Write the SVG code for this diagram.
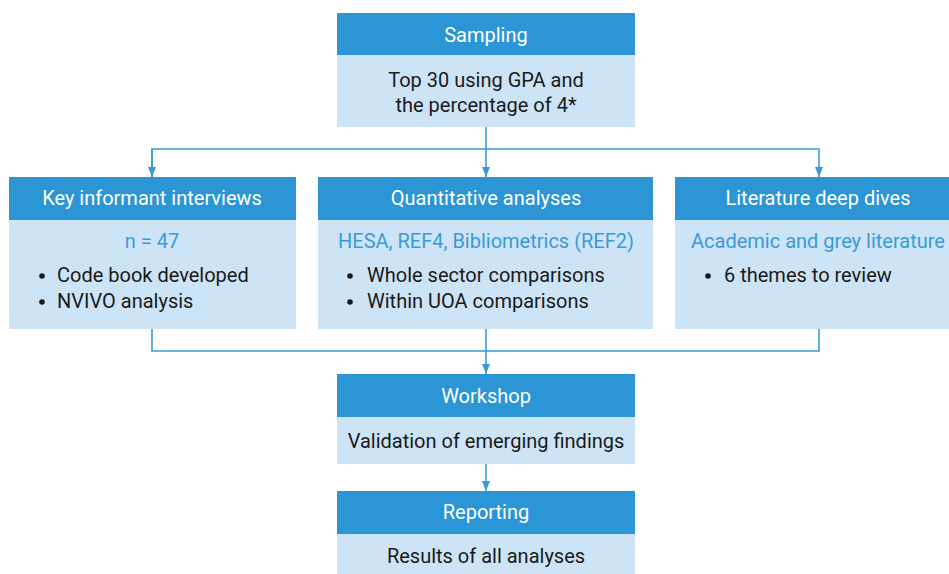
<svg xmlns="http://www.w3.org/2000/svg" width="949" height="574" viewBox="0 0 949 574">
<defs>
<style>
.hd{fill:#2B95D5}
.bd{fill:#CCE4F6}
.ht{font-family:Roboto,"Liberation Sans",sans-serif;font-size:20px;fill:#ffffff;text-anchor:middle}
.bt{font-family:Roboto,"Liberation Sans",sans-serif;font-size:20px;fill:#1a1a1a}
.bu{fill:#1a1a1a}
.bl{font-family:Roboto,"Liberation Sans",sans-serif;font-size:20px;fill:#3A9AD9;text-anchor:middle}
.c{text-anchor:middle}
.ln{fill:none;stroke:#3A9AD9;stroke-width:1.6}
</style>
<marker id="ah" viewBox="0 0 10 8" refX="10" refY="4" markerWidth="10" markerHeight="8" markerUnits="userSpaceOnUse" orient="auto">
<path d="M0,0 L10,4 L0,8 Z" fill="#3A9AD9"/>
</marker>
</defs>
<rect width="949" height="574" fill="#ffffff"/>
<g id="connectors">
<path class="ln" d="M486,127 V177" marker-end="url(#ah)"/>
<path class="ln" d="M152,177 V149 H819 V177" marker-end="url(#ah)"/>
<path class="ln" d="M152,149 V177" marker-end="url(#ah)"/>
<path class="ln" d="M152,329 V351 H819 V329"/>
<path class="ln" d="M486,329 V374" marker-end="url(#ah)"/>
<path class="ln" d="M486,464 V491" marker-end="url(#ah)"/>
</g>
<g id="sampling">
<rect class="hd" x="337" y="13" width="298" height="42"/>
<rect class="bd" x="337" y="55" width="298" height="72"/>
<text class="ht" x="486" y="42">Sampling</text>
<text class="bt c" x="486" y="87">Top 30 using GPA and</text>
<text class="bt c" x="486" y="112">the percentage of 4*</text>
</g>
<g id="key-informant">
<rect class="hd" x="9" y="177" width="287" height="43"/>
<rect class="bd" x="9" y="220" width="287" height="109"/>
<text class="ht" x="152" y="205">Key informant interviews</text>
<text class="bl" x="152" y="248">n = 47</text>
<circle class="bu" cx="42" cy="276" r="2.8"/>
<text class="bt" x="57" y="282">Code book developed</text>
<circle class="bu" cx="42" cy="302" r="2.8"/>
<text class="bt" x="57" y="308">NVIVO analysis</text>
</g>
<g id="quantitative">
<rect class="hd" x="318" y="177" width="335" height="43"/>
<rect class="bd" x="318" y="220" width="335" height="109"/>
<text class="ht" x="486" y="205">Quantitative analyses</text>
<text class="bl" x="486" y="248">HESA, REF4, Bibliometrics (REF2)</text>
<circle class="bu" cx="350" cy="276" r="2.8"/>
<text class="bt" x="367" y="282">Whole sector comparisons</text>
<circle class="bu" cx="350" cy="302" r="2.8"/>
<text class="bt" x="367" y="308">Within UOA comparisons</text>
</g>
<g id="literature">
<rect class="hd" x="675" y="177" width="274" height="43"/>
<rect class="bd" x="675" y="220" width="274" height="109"/>
<text class="ht" x="818" y="205">Literature deep dives</text>
<text class="bl" x="818" y="248">Academic and grey literature</text>
<circle class="bu" cx="708" cy="276" r="2.8"/>
<text class="bt" x="724" y="282">6 themes to review</text>
</g>
<g id="workshop">
<rect class="hd" x="337" y="374" width="298" height="43"/>
<rect class="bd" x="337" y="417" width="298" height="47"/>
<text class="ht" x="486" y="403">Workshop</text>
<text class="bt c" x="486" y="448">Validation of emerging findings</text>
</g>
<g id="reporting">
<rect class="hd" x="337" y="491" width="298" height="43"/>
<rect class="bd" x="337" y="534" width="298" height="40"/>
<text class="ht" x="486" y="519">Reporting</text>
<text class="bt c" x="486" y="563">Results of all analyses</text>
</g>
</svg>
